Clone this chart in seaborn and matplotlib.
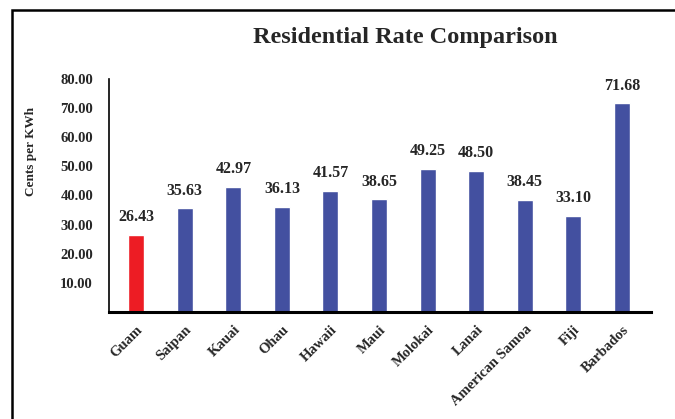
import matplotlib
matplotlib.use("Agg")
import matplotlib.pyplot as plt
import seaborn as sns
import pandas as pd
from matplotlib.patches import Rectangle

places = ["Guam", "Saipan", "Kauai", "Ohau", "Hawaii", "Maui", "Molokai",
          "Lanai", "American Samoa", "Fiji", "Barbados"]
rates = [26.43, 35.63, 42.97, 36.13, 41.57, 38.65, 49.25, 48.50, 38.45, 33.10, 71.68]
yticks = [10, 20, 30, 40, 50, 60, 70, 80]

sns.set_theme(style="white")
plt.rcParams['font.family'] = ['Liberation Serif', 'DejaVu Serif']
plt.rcParams['font.weight'] = 'bold'

df = pd.DataFrame({"place": places, "rate": rates})
palette = ["#ED1C24"] + ["#4350A0"] * (len(places) - 1)

fig = plt.figure(figsize=(6.75, 4.19), dpi=100)
ax = fig.add_axes([109/675, 1-312/419, (651-109)/675, (312-79)/419])

sns.barplot(data=df, x="place", y="rate", hue="place", palette=palette,
            width=0.33, legend=False, ax=ax, saturation=1)

ax.set_xlim(-0.56, 10.6)
ax.set_ylim(0, 80)
ax.set_yticks(yticks)
ax.set_yticklabels([f"{v:.2f}" for v in yticks], fontsize=10.5, fontweight='bold')
ax.tick_params(axis='y', length=0, pad=11.5)
ax.tick_params(axis='x', length=0, pad=8)
ax.set_xticks(range(len(places)))
ax.set_xticklabels(places, rotation=45, ha='right', rotation_mode='anchor',
                   fontsize=10.5, fontweight='bold')
ax.set_xlabel("")
ax.set_ylabel("")

for c in ax.containers:
    ax.bar_label(c, labels=[f"{v:.2f}" for v in c.datavalues], padding=7,
                 fontsize=11.5, fontweight='bold')

for s in ["top", "right"]:
    ax.spines[s].set_visible(False)
ax.spines["left"].set_color("black")
ax.spines["left"].set_linewidth(1.2)
ax.spines["bottom"].set_color("black")
ax.spines["bottom"].set_linewidth(2.2)

fig.text(405/675, 1-38/419, "Residential Rate Comparison", ha='center', va='center',
         fontsize=17.5, fontweight='bold')
fig.text(31/675, 1-152/419, "Cents per KWh", ha='center', va='center',
         rotation=90, fontsize=9.5, fontweight='bold')

fig.patches.append(Rectangle((12/675, -0.1), 1.0, 1.1 - 10/419,
                             transform=fig.transFigure, fill=False,
                             edgecolor='black', linewidth=1.8))

fig.savefig("out.png", dpi=100)
